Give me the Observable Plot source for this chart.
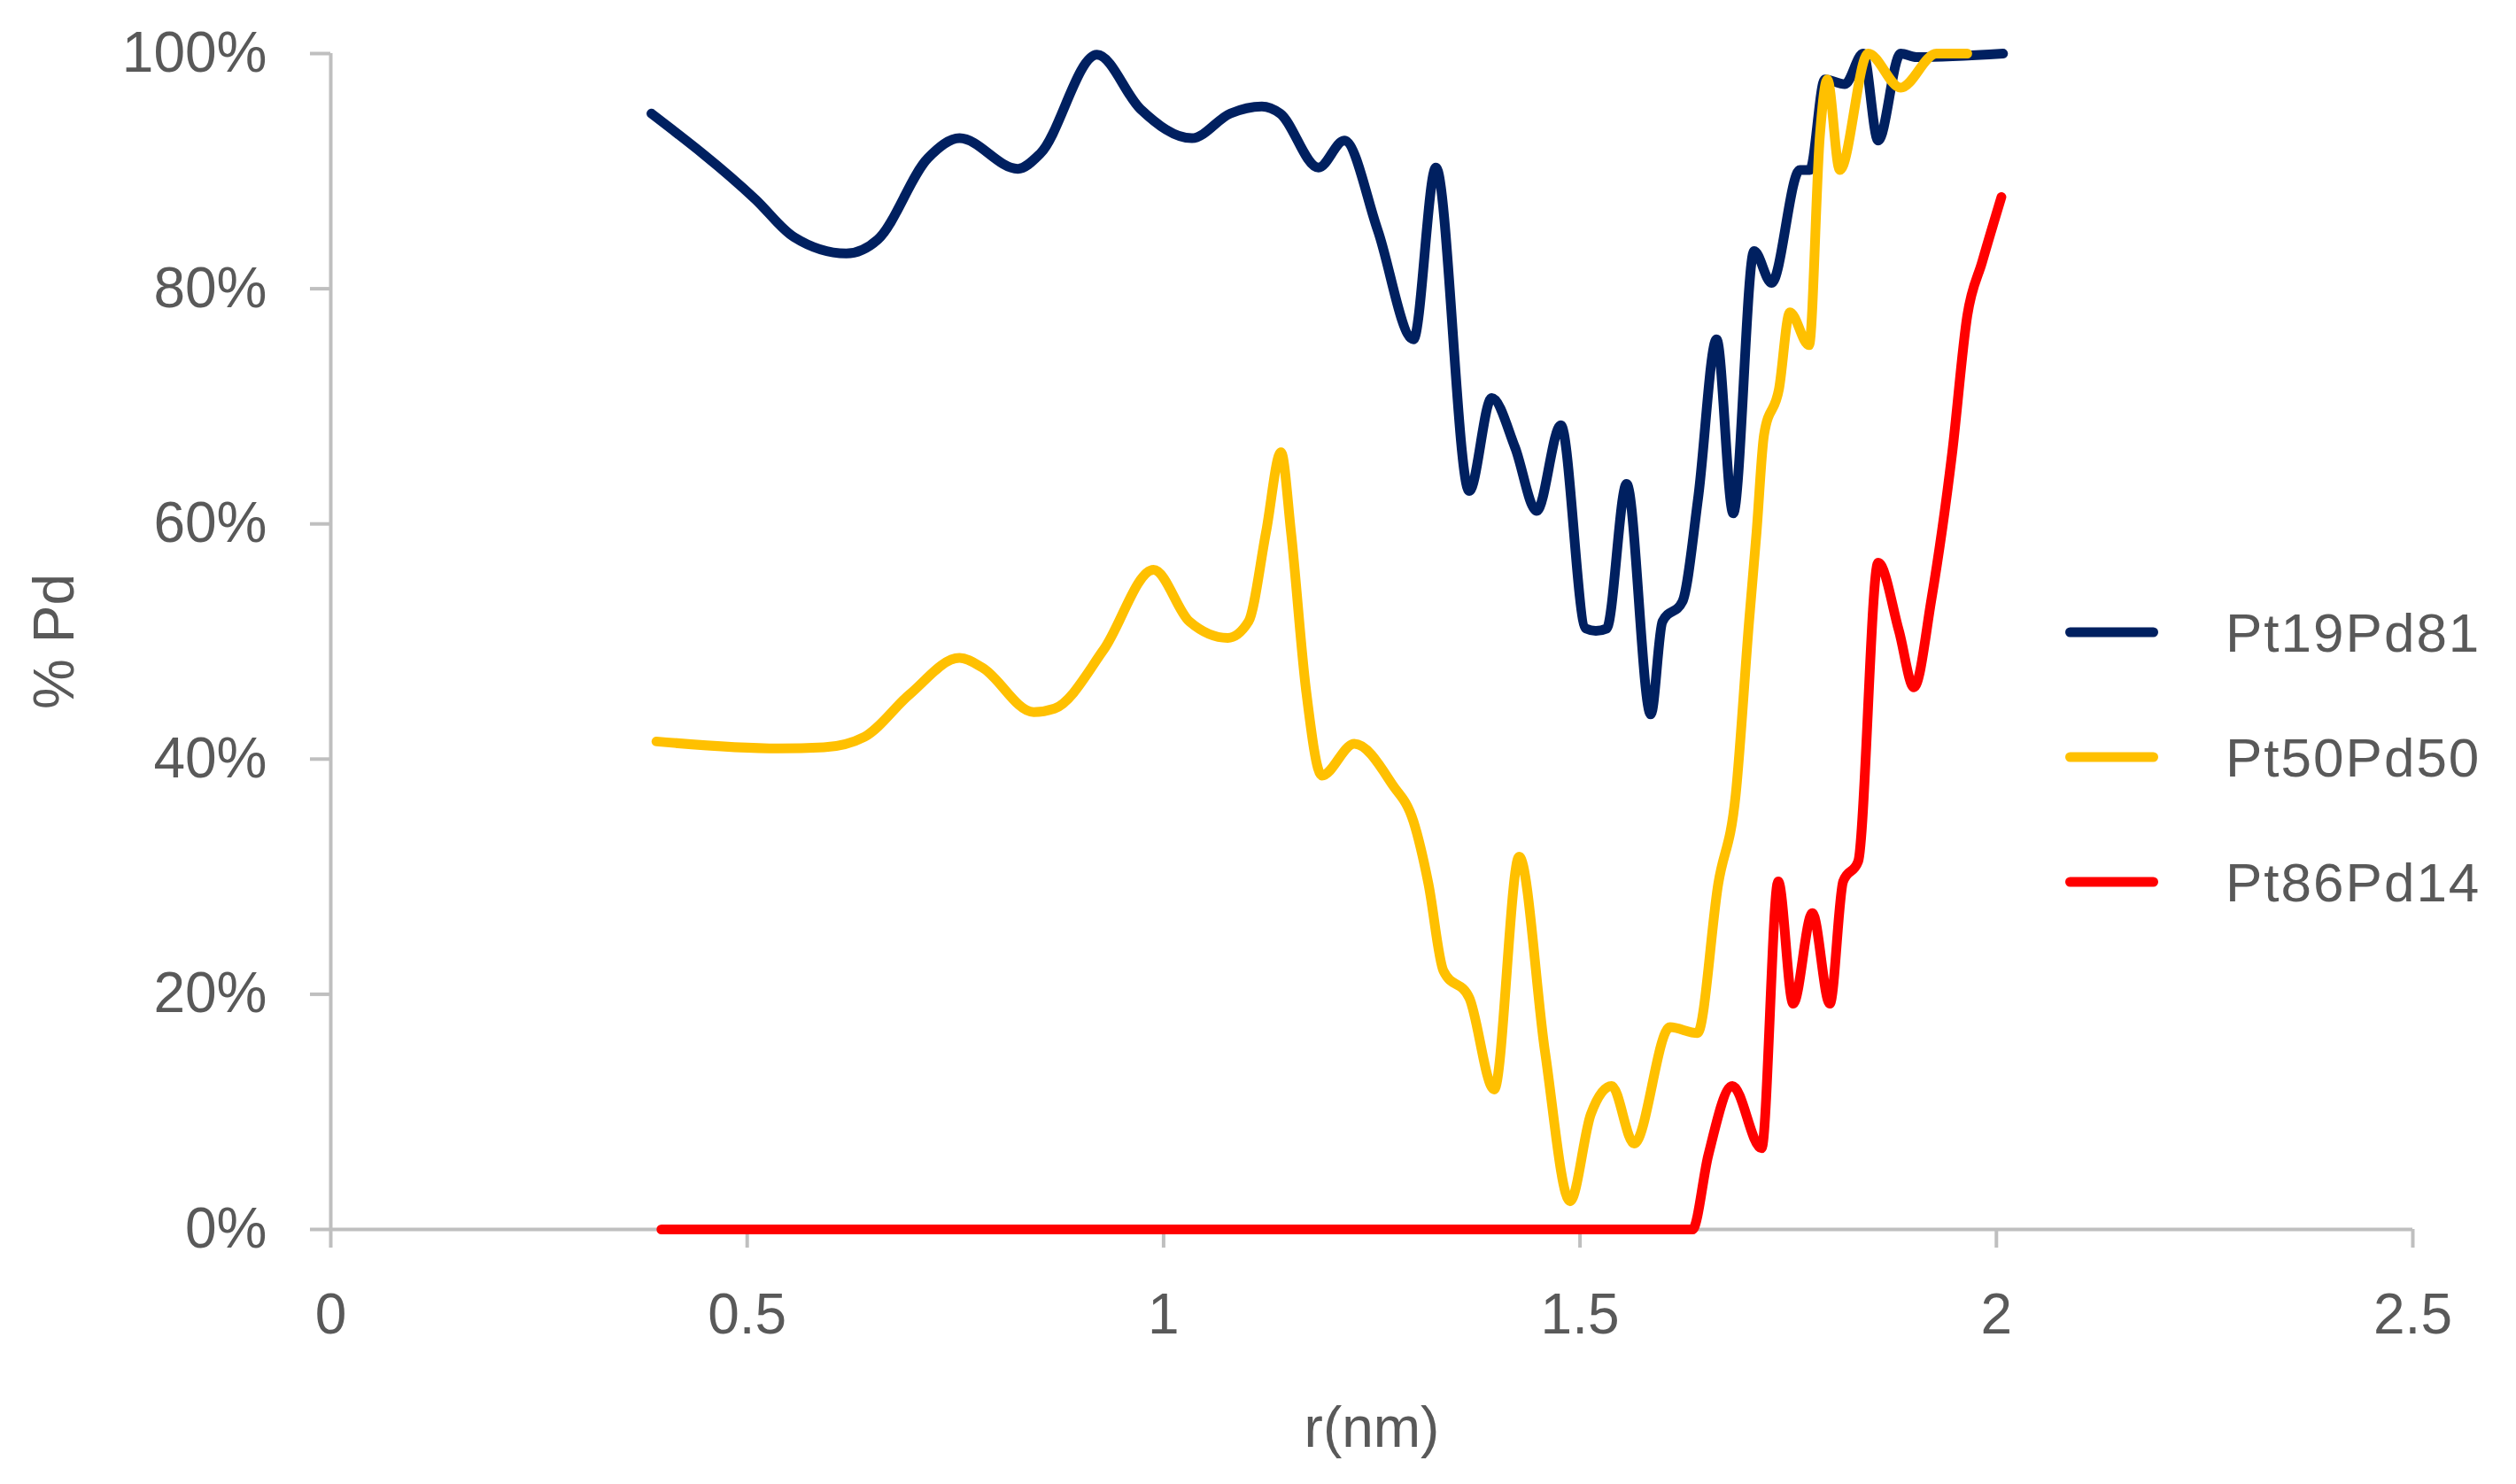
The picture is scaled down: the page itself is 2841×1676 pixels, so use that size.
<!DOCTYPE html>
<html><head><meta charset="utf-8">
<script src="https://cdn.jsdelivr.net/npm/d3@7"></script>
<script src="https://cdn.jsdelivr.net/npm/@observablehq/plot@0.6"></script>
<style>
html,body{margin:0;padding:0;background:#fff;}
#wrap{position:relative;width:2841px;height:1676px;font-family:"Liberation Sans",Arial,sans-serif;}
#legend{position:absolute;left:2332px;top:0;}
.row{position:absolute;left:0;display:flex;align-items:center;white-space:nowrap;transform:translateY(-50%);}
.sw{width:105px;height:11px;border-radius:6px;margin-right:76px;}
.lab{font-size:62px;letter-spacing:2px;color:#595959;}
</style></head><body><div id="wrap"></div>
<script>
const seriesNames = ["Pt19Pd81", "Pt50Pd50", "Pt86Pd14"];
const seriesColors = ["#002060", "#FFC000", "#FF0000"];

const xTicks = [0, 0.5, 1, 1.5, 2, 2.5];
const xTickLabels = ["0", "0.5", "1", "1.5", "2", "2.5"];
const yTicks = [0, 20, 40, 60, 80, 100];
const yTickLabels = ["0%", "20%", "40%", "60%", "80%", "100%"];

// Pt19Pd81
const r19 = [0.385, 0.510, 0.556, 0.619, 0.657, 0.717, 0.755, 0.825, 0.852, 0.920, 0.972, 1.034, 1.080, 1.118, 1.140, 1.186, 1.217, 1.257, 1.300, 1.327, 1.367, 1.394, 1.422, 1.448, 1.477, 1.507, 1.519, 1.532, 1.556, 1.585, 1.599, 1.623, 1.642, 1.664, 1.684, 1.709, 1.730, 1.764, 1.776, 1.794, 1.818, 1.840, 1.858, 1.885, 1.904, 2.008];
const v19 = [94.9, 87.6, 84.4, 83.0, 84.2, 91.1, 92.8, 90.2, 91.5, 99.9, 95.3, 92.8, 94.9, 95.5, 94.9, 90.3, 92.6, 85.0, 75.7, 90.3, 62.8, 70.7, 66.5, 61.1, 68.4, 51.1, 50.9, 51.1, 63.4, 43.8, 51.7, 53.4, 62.3, 75.7, 60.9, 83.2, 80.5, 90.1, 90.1, 97.8, 97.4, 100, 92.6, 100, 99.7, 100];

// Pt50Pd50
const r50 = [0.391, 0.538, 0.592, 0.641, 0.695, 0.755, 0.782, 0.844, 0.869, 0.928, 0.988, 1.031, 1.077, 1.102, 1.123, 1.141, 1.153, 1.171, 1.190, 1.229, 1.275, 1.300, 1.318, 1.336, 1.367, 1.397, 1.427, 1.458, 1.488, 1.513, 1.538, 1.565, 1.608, 1.641, 1.666, 1.687, 1.703, 1.712, 1.721, 1.739, 1.752, 1.775, 1.788, 1.797, 1.812, 1.846, 1.885, 1.928, 1.965];
const v50 = [41.5, 40.9, 41.0, 41.9, 45.5, 48.6, 47.8, 44.0, 44.3, 49.3, 56.1, 51.7, 50.3, 51.7, 59.3, 66.1, 59.3, 45.9, 38.6, 41.3, 37.8, 34.7, 29.4, 22.0, 19.7, 11.9, 31.7, 15.1, 2.4, 9.8, 12.2, 7.3, 17.2, 16.7, 29.4, 37.0, 51.7, 59.3, 67.6, 71.5, 78.0, 75.2, 93.0, 97.8, 90.1, 100, 97.1, 100, 100];

// Pt86Pd14
const r86 = [0.397, 1.600, 1.635, 1.654, 1.683, 1.718, 1.738, 1.756, 1.779, 1.800, 1.816, 1.834, 1.858, 1.883, 1.901, 1.922, 1.947, 1.965, 1.983, 2.006];
const v86 = [0, 0, 0, 6.3, 12.2, 6.9, 29.6, 19.2, 26.9, 19.2, 29.6, 31.3, 56.7, 50.9, 46.1, 53.6, 66.1, 77.7, 82.3, 87.8];

const seriesR = [r19, r50, r86];
const seriesV = [v19, v50, v86];
const data = seriesNames.flatMap((name, k) => seriesR[k].map((r, i) => ({series: name, r, v: seriesV[k][i]})));

const axisGray = "#bfbfbf";
const textGray = "#595959";

const chart = Plot.plot({
  width: 2841,
  height: 1676,
  marginLeft: 373,
  marginRight: 117,
  marginTop: 60,
  marginBottom: 288,
  style: {fontFamily: "'Liberation Sans', Arial, sans-serif", fontSize: "64px", color: textGray, background: "#fff"},
  x: {domain: [0, 2.5]},
  y: {domain: [0, 100]},
  color: {domain: seriesNames, range: seriesColors},
  marks: [
    Plot.ruleX([0], {stroke: axisGray, strokeWidth: 4}),
    Plot.ruleY([0], {stroke: axisGray, strokeWidth: 4}),
    Plot.axisY({ticks: yTicks, tickFormat: d => yTickLabels[yTicks.indexOf(d)], tickSize: 23, tickPadding: 49,
      stroke: axisGray, strokeWidth: 4, fill: textGray, fontSize: 64,
      label: "% Pd", labelAnchor: "center", labelArrow: "none", labelOffset: 336}),
    Plot.axisX({ticks: xTicks, tickFormat: d => xTickLabels[xTicks.indexOf(d)], tickSize: 21, tickPadding: 51,
      stroke: axisGray, strokeWidth: 4, fill: textGray, fontSize: 64,
      label: "r(nm)", labelAnchor: "center", labelArrow: "none", labelOffset: 245}),
    Plot.line(data, {x: "r", y: "v", z: "series", stroke: "series", strokeWidth: 11,
      curve: "monotone-x", strokeLinecap: "round", strokeLinejoin: "round"})
  ]
});

const wrap = document.getElementById("wrap");
wrap.appendChild(chart);

const legend = document.createElement("div");
legend.id = "legend";
seriesNames.forEach((name, i) => {
  const row = document.createElement("div");
  row.className = "row";
  row.style.top = (714 + i * 141) + "px";
  const sw = document.createElement("div");
  sw.className = "sw";
  sw.style.background = seriesColors[i];
  const lab = document.createElement("span");
  lab.className = "lab";
  lab.textContent = name;
  row.appendChild(sw);
  row.appendChild(lab);
  legend.appendChild(row);
});
wrap.appendChild(legend);
</script>
</body></html>
